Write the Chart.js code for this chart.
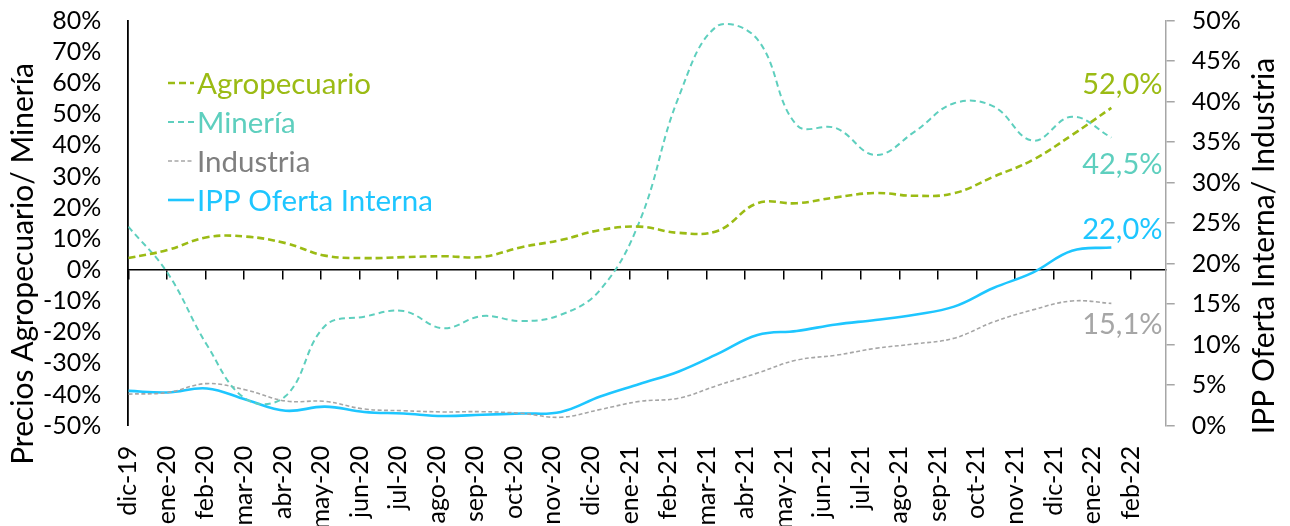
<!DOCTYPE html>
<html>
<head>
<meta charset="utf-8">
<script src="https://cdn.jsdelivr.net/npm/chart.js@4.4.1/dist/chart.umd.min.js"></script>
<style>
  html, body { margin: 0; padding: 0; background: #fff; }
  #wrap { width: 1290px; height: 526px; }
</style>
</head>
<body>
<div id="wrap"><canvas id="ppiChart" width="1290" height="526"></canvas></div>
<script>
// month tick labels on the date axis (one tick per month)
const monthLabels = [
  "dic-19", "ene-20", "feb-20", "mar-20", "abr-20", "may-20", "jun-20", "jul-20",
  "ago-20", "sep-20", "oct-20", "nov-20", "dic-20", "ene-21", "feb-21", "mar-21",
  "abr-21", "may-21", "jun-21", "jul-21", "ago-21", "sep-21", "oct-21", "nov-21",
  "dic-21", "ene-22", "feb-22"
];

// observation positions, in months from dic-19
const obsPos = [
  0, 1.02, 2.04, 3.06, 4.08, 5.1, 6.12, 7.14, 8.16, 9.18, 10.2, 11.22, 12.24,
  13.26, 14.28, 15.3, 16.32, 17.34, 18.36, 19.38, 20.4, 21.42, 22.44, 23.46, 24.48, 25.5
];

// left axis series (%)
const agropecuario = [
  3.8, 6.4, 10.5, 10.7, 8.6, 4.6, 3.8, 4.1, 4.4, 4.2, 7.3, 9.6, 12.8,
  13.9, 11.9, 12.6, 21.4, 21.4, 23.3, 24.7, 23.8, 24.6, 29.9, 35.3, 43.3, 52.0
];
const mineria = [
  13.9, -1, -24.1, -41.5, -40.5, -18, -15, -13.2, -18.7, -14.8, -16.4, -14.4, -6.4,
  15.5, 55.6, 78.5, 74, 46.5, 45.5, 36.9, 44.4, 53.5, 52.5, 41.5, 49.2, 42.5
];

// right axis series (%)
const industria = [
  3.9, 4.1, 5.2, 4.4, 3.05, 3.0, 2.06, 1.85, 1.7, 1.73, 1.53, 1.04, 2.0,
  3.0, 3.4, 5.0, 6.5, 8.1, 8.7, 9.55, 10.1, 10.8, 12.8, 14.3, 15.4, 15.1
];
const ippOferta = [
  4.3, 4.1, 4.6, 3.2, 1.85, 2.35, 1.7, 1.5, 1.2, 1.36, 1.5, 1.7, 3.6,
  5.15, 6.7, 8.9, 11.2, 11.7, 12.5, 13.05, 13.7, 14.7, 17.0, 18.9, 21.6, 22.0
];

const leftTitle = "Precios Agropecuario/ Minería";
const rightTitle = "IPP Oferta Interna/ Industria";

const FONT = "Lato";
const X_MAX = 26.91;

const toPoints = vals => vals.map((v, i) => ({ x: obsPos[i], y: v }));
const fmtPct = v => v.toFixed(1).replace(".", ",") + "%";

const series = [
  { label: "Agropecuario", data: agropecuario, axis: "y", color: "#9BBB14", text: "#9BBB14",
    width: 2.6, dash: [7, 4], endDx: 11, endDy: -23 },
  { label: "Minería", data: mineria, axis: "y", color: "#5ECFBE", text: "#5ECFBE",
    width: 2, dash: [6, 4], endDx: 11, endDy: 27 },
  { label: "Industria", data: industria, axis: "y2", color: "#A6A6A6", text: "#7F7F7F",
    width: 1.6, dash: [4, 2.5], endDx: 11, endDy: 21, endColor: "#A6A6A6" },
  { label: "IPP Oferta Interna", data: ippOferta, axis: "y2", color: "#1EC6FF", text: "#1EC6FF",
    width: 2.6, dash: [], endDx: 11, endDy: -18 },
];

// legend drawn inside the plot, top-left
const insideLegend = {
  id: "insideLegend",
  afterDraw(chart) {
    const ctx = chart.ctx;
    ctx.save();
    ctx.font = `29.5px ${FONT}`;
    ctx.textBaseline = "middle";
    series.forEach((s, i) => {
      const y = 83 + i * 39;
      ctx.strokeStyle = s.color;
      ctx.lineWidth = s.width;
      ctx.setLineDash(s.dash);
      ctx.beginPath();
      ctx.moveTo(168, y);
      ctx.lineTo(194, y);
      ctx.stroke();
      ctx.setLineDash([]);
      ctx.fillStyle = s.text;
      ctx.fillText(s.label, 197, y + 1);
    });
    ctx.restore();
  }
};

// value label near the last point of each line
const endLabels = {
  id: "endLabels",
  afterDatasetsDraw(chart) {
    const ctx = chart.ctx;
    ctx.save();
    ctx.font = `29px ${FONT}`;
    ctx.textAlign = "center";
    ctx.textBaseline = "middle";
    series.forEach((s, i) => {
      const pts = chart.getDatasetMeta(i).data;
      const last = pts[pts.length - 1];
      ctx.fillStyle = s.endColor || s.color;
      ctx.fillText(fmtPct(s.data[s.data.length - 1]), last.x + s.endDx, last.y + s.endDy);
    });
    ctx.restore();
  }
};

// vertical axis titles
function drawVTitle(ctx, text, x, y) {
  ctx.save();
  ctx.font = `30px ${FONT}`;
  ctx.fillStyle = "#000";
  ctx.textAlign = "center";
  ctx.textBaseline = "middle";
  ctx.translate(x, y);
  ctx.rotate(-Math.PI / 2);
  ctx.fillText(text, 0, 0);
  ctx.restore();
}
const axisTitles = {
  id: "axisTitles",
  afterDraw(chart) {
    drawVTitle(chart.ctx, leftTitle, 23, 264);
    drawVTitle(chart.ctx, rightTitle, 1264, 246);
  }
};

// keep the plot area where the original has it
const noLabelOverflow = s => { s.paddingTop = 0; s.paddingBottom = 0; };

new Chart(document.getElementById("ppiChart"), {
  type: "line",
  data: {
    datasets: series.map(s => ({
      label: s.label,
      data: toPoints(s.data),
      xAxisID: "x",
      yAxisID: s.axis,
      borderColor: s.color,
      borderWidth: s.width,
      borderDash: s.dash,
      pointRadius: 0,
      tension: 0.4,
      fill: false,
    })),
  },
  options: {
    responsive: false,
    animation: false,
    events: [],
    layout: { padding: { top: 20.7, left: 0, right: 0, bottom: 0 } },
    plugins: { legend: { display: false }, tooltip: { enabled: false } },
    scales: {
      x: {
        type: "linear",
        position: "bottom",
        min: 0,
        max: X_MAX,
        grid: { display: false, drawTicks: false },
        border: { display: false },
        ticks: {
          stepSize: 1,
          includeBounds: false,
          autoSkip: false,
          minRotation: 90,
          maxRotation: 90,
          padding: 20,
          color: "#000",
          font: { family: FONT, size: 25 },
          callback: v => monthLabels[v] || "",
        },
        afterFit: s => { s.height = 100.3; s.paddingLeft = 0; s.paddingRight = 0; },
      },
      x0: {
        type: "linear",
        position: { y: 0 },
        min: 0,
        max: X_MAX,
        grid: { display: true, drawOnChartArea: false, drawTicks: true, tickLength: 9, color: "#000", lineWidth: 1.5 },
        border: { display: true, color: "#000", width: 1.5 },
        ticks: { display: false, stepSize: 1, includeBounds: false, autoSkip: false },
      },
      y: {
        position: "left",
        min: -50,
        max: 80,
        grid: { display: false, drawTicks: false },
        border: { display: true, color: "#000", width: 1.8 },
        ticks: {
          stepSize: 10,
          autoSkip: false,
          padding: 27,
          color: "#000",
          font: { family: FONT, size: 25 },
          callback: v => v + "%",
        },
        afterFit: s => { s.width = 128.3; noLabelOverflow(s); },
      },
      y2: {
        position: "right",
        min: 0,
        max: 50,
        grid: { display: true, drawOnChartArea: false, drawTicks: true, tickLength: 9, color: "#A6A6A6", lineWidth: 1.5 },
        border: { display: true, color: "#A6A6A6", width: 1.5 },
        ticks: {
          stepSize: 5,
          autoSkip: false,
          padding: 17,
          color: "#000",
          font: { family: FONT, size: 25 },
          callback: v => v + "%",
        },
        afterFit: s => { s.width = 124.3; noLabelOverflow(s); },
      },
    },
  },
  plugins: [insideLegend, endLabels, axisTitles],
});
</script>
</body>
</html>
